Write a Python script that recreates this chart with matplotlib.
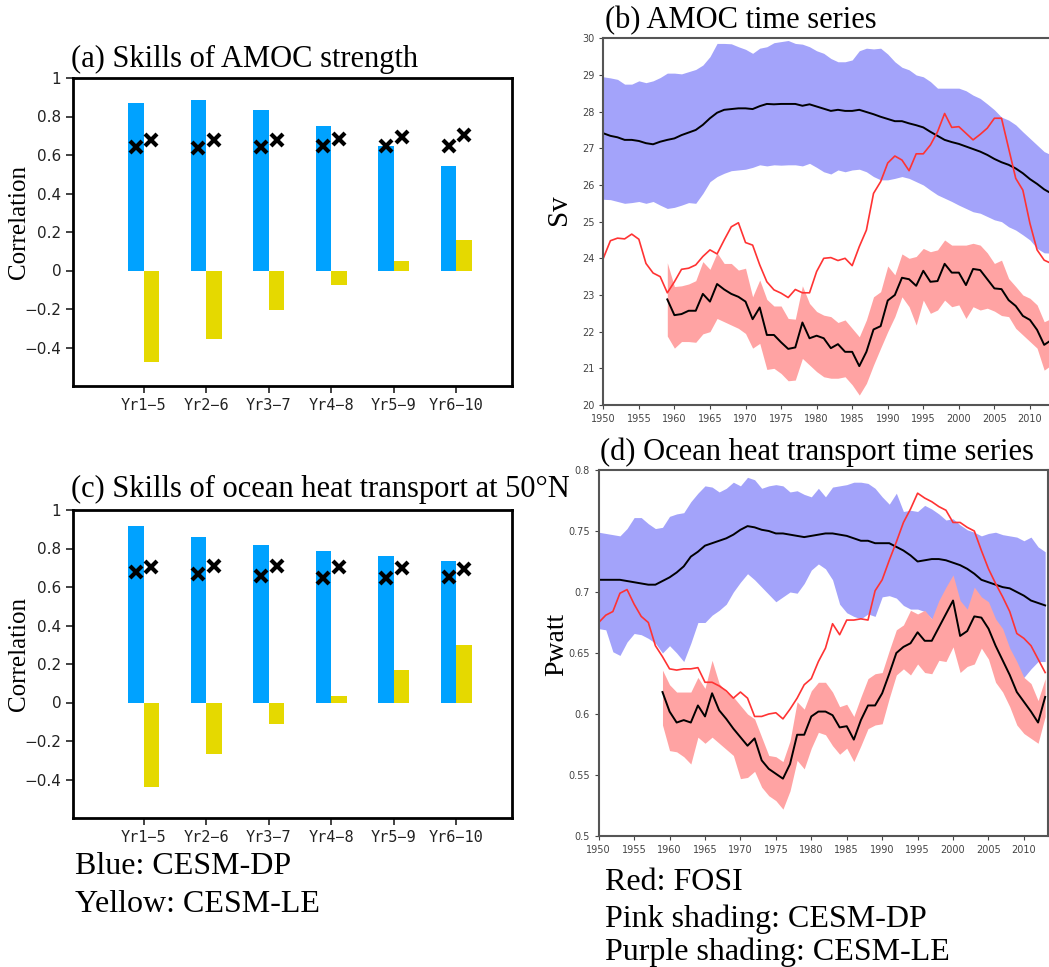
import matplotlib.pyplot as plt
import numpy as np

plt.rcParams['font.family'] = 'DejaVu Sans'

# ---- bar panels: correlation skill ----
leads = ['Yr1\u22125', 'Yr2\u22126', 'Yr3\u22127', 'Yr4\u22128', 'Yr5\u22129', 'Yr6\u221210']

amoc_dp = [0.870, 0.886, 0.832, 0.749, 0.648, 0.541]
amoc_le = [-0.477, -0.357, -0.204, -0.075, 0.047, 0.159]
amoc_dp_x = [0.640, 0.636, 0.641, 0.645, 0.648, 0.648]
amoc_le_x = [0.676, 0.676, 0.678, 0.683, 0.693, 0.705]

oht_dp = [0.916, 0.861, 0.819, 0.786, 0.761, 0.735]
oht_le = [-0.441, -0.270, -0.110, 0.035, 0.167, 0.300]
oht_dp_x = [0.679, 0.665, 0.655, 0.646, 0.646, 0.652]
oht_le_x = [0.702, 0.707, 0.709, 0.706, 0.699, 0.692]

# ---- time series ----
years = np.arange(1950, 2014)
years_dp = np.arange(1959, 2014)

amoc_le_hi = [28.95, 28.92, 28.88, 28.75, 28.75, 28.84, 28.79, 28.84, 28.93, 29.05,
              29.05, 29.03, 29.09, 29.15, 29.27, 29.50, 29.86, 29.86, 29.85, 29.77,
              29.70, 29.59, 29.73, 29.77, 29.88, 29.91, 29.94, 29.86, 29.84, 29.77,
              29.66, 29.59, 29.45, 29.36, 29.36, 29.41, 29.66, 29.73, 29.71, 29.73,
              29.57, 29.36, 29.21, 29.14, 29.00, 28.95, 28.82, 28.64, 28.64, 28.64,
              28.64, 28.57, 28.45, 28.36, 28.21, 28.05, 27.85, 27.77, 27.64, 27.45,
              27.27, 27.09, 26.91, 26.82]
amoc_le_lo = [25.61, 25.60, 25.55, 25.50, 25.52, 25.55, 25.50, 25.55, 25.45, 25.36,
              25.39, 25.45, 25.52, 25.50, 25.77, 26.09, 26.23, 26.32, 26.39, 26.41,
              26.43, 26.48, 26.55, 26.52, 26.55, 26.54, 26.55, 26.55, 26.52, 26.59,
              26.48, 26.36, 26.30, 26.41, 26.36, 26.41, 26.43, 26.36, 26.23, 26.14,
              26.14, 26.18, 26.23, 26.18, 26.09, 26.00, 25.86, 25.73, 25.64, 25.55,
              25.45, 25.36, 25.27, 25.23, 25.14, 25.05, 25.00, 24.86, 24.77, 24.64,
              24.50, 24.27, 24.15, 24.14]
amoc_le_mean = [27.41, 27.34, 27.30, 27.23, 27.23, 27.20, 27.14, 27.11, 27.18, 27.23,
                27.27, 27.36, 27.43, 27.50, 27.64, 27.82, 27.97, 28.05, 28.07, 28.09,
                28.09, 28.07, 28.15, 28.21, 28.20, 28.21, 28.21, 28.21, 28.16, 28.20,
                28.14, 28.08, 28.02, 28.05, 28.02, 28.02, 28.05, 27.99, 27.93, 27.86,
                27.80, 27.74, 27.74, 27.68, 27.63, 27.57, 27.45, 27.34, 27.23, 27.17,
                27.12, 27.05, 26.98, 26.91, 26.82, 26.71, 26.62, 26.55, 26.45, 26.32,
                26.16, 26.03, 25.88, 25.77]
amoc_fosi = [24.00, 24.48, 24.55, 24.53, 24.66, 24.52, 23.86, 23.60, 23.50, 23.06,
             23.36, 23.70, 23.73, 23.82, 24.05, 24.23, 24.12, 24.50, 24.86, 24.97,
             24.43, 24.36, 23.82, 23.36, 23.14, 23.05, 22.93, 23.15, 23.06, 23.06,
             23.64, 24.00, 24.02, 23.94, 24.00, 23.80, 24.32, 24.77, 25.77, 26.09,
             26.60, 26.79, 26.68, 26.39, 26.85, 26.85, 27.09, 27.45, 27.95, 27.57,
             27.59, 27.41, 27.23, 27.38, 27.55, 27.82, 27.82, 27.00, 26.18, 25.86,
             24.95, 24.23, 23.95, 23.86]
amoc_dp_mean = [22.88, 22.45, 22.48, 22.57, 22.57, 23.03, 22.82, 23.30, 23.15, 23.03,
                22.95, 22.82, 22.34, 22.66, 21.91, 21.91, 21.71, 21.53, 21.57, 22.25,
                21.82, 21.89, 21.82, 21.55, 21.66, 21.45, 21.45, 21.06, 21.45, 22.06,
                22.15, 22.85, 23.00, 23.47, 23.43, 23.25, 23.66, 23.36, 23.38, 23.85,
                23.61, 23.61, 23.27, 23.71, 23.68, 23.43, 23.18, 23.16, 22.86, 22.70,
                22.43, 22.32, 22.05, 21.64, 21.77]
amoc_dp_hi = [23.88, 23.23, 23.25, 23.30, 23.39, 23.91, 23.70, 24.15, 23.86, 23.86,
              23.68, 23.73, 22.95, 23.41, 22.88, 22.70, 22.70, 22.36, 22.34, 23.25,
              22.77, 22.55, 22.45, 22.41, 22.25, 22.32, 22.09, 21.86, 22.32, 22.95,
              23.09, 23.79, 23.55, 24.12, 24.00, 24.05, 24.27, 24.18, 24.23, 24.50,
              24.36, 24.36, 24.36, 24.41, 24.36, 24.15, 23.86, 23.95, 23.45, 23.23,
              23.00, 22.91, 22.73, 22.27, 22.36]
amoc_dp_lo = [21.88, 21.55, 21.73, 21.73, 21.71, 21.94, 22.00, 22.36, 22.27, 22.18,
              22.09, 21.95, 21.55, 21.68, 20.97, 21.00, 20.86, 20.66, 20.68, 21.27,
              21.09, 20.91, 20.77, 20.73, 20.73, 20.77, 20.55, 20.27, 20.59, 21.09,
              21.55, 22.00, 22.41, 22.95, 22.68, 22.18, 22.86, 22.50, 22.59, 22.86,
              22.68, 22.73, 22.36, 22.68, 22.59, 22.64, 22.56, 22.44, 22.41, 22.09,
              21.91, 21.73, 21.55, 20.95, 21.09]

oht_le_hi = [0.749, 0.748, 0.747, 0.746, 0.752, 0.761, 0.761, 0.756, 0.752, 0.753,
             0.762, 0.764, 0.765, 0.774, 0.781, 0.787, 0.786, 0.782, 0.785, 0.790,
             0.787, 0.794, 0.792, 0.785, 0.787, 0.788, 0.787, 0.782, 0.783, 0.780,
             0.778, 0.785, 0.778, 0.786, 0.787, 0.788, 0.790, 0.790, 0.789, 0.785,
             0.778, 0.772, 0.781, 0.766, 0.767, 0.766, 0.771, 0.768, 0.764, 0.759,
             0.760, 0.755, 0.751, 0.749, 0.746, 0.748, 0.749, 0.747, 0.746, 0.745,
             0.742, 0.745, 0.737, 0.733]
oht_le_lo = [0.670, 0.669, 0.651, 0.648, 0.659, 0.666, 0.665, 0.662, 0.658, 0.650,
             0.656, 0.650, 0.643, 0.658, 0.675, 0.675, 0.681, 0.685, 0.690, 0.700,
             0.708, 0.715, 0.710, 0.704, 0.698, 0.692, 0.696, 0.700, 0.699, 0.707,
             0.718, 0.723, 0.719, 0.710, 0.690, 0.683, 0.680, 0.678, 0.682, 0.680,
             0.696, 0.697, 0.695, 0.689, 0.686, 0.686, 0.684, 0.678, 0.678, 0.677,
             0.674, 0.673, 0.673, 0.670, 0.667, 0.659, 0.654, 0.647, 0.643, 0.636,
             0.630, 0.637, 0.643, 0.643]
oht_le_mean = [0.710, 0.710, 0.710, 0.710, 0.709, 0.708, 0.707, 0.706, 0.706, 0.709,
               0.712, 0.716, 0.721, 0.729, 0.733, 0.738, 0.740, 0.742, 0.744, 0.747,
               0.751, 0.754, 0.753, 0.751, 0.750, 0.748, 0.748, 0.747, 0.746, 0.745,
               0.746, 0.747, 0.748, 0.748, 0.747, 0.746, 0.744, 0.742, 0.742, 0.740,
               0.740, 0.740, 0.737, 0.734, 0.730, 0.725, 0.726, 0.727, 0.727, 0.726,
               0.724, 0.722, 0.719, 0.715, 0.710, 0.708, 0.706, 0.704, 0.703, 0.700,
               0.697, 0.693, 0.691, 0.689]
oht_fosi = [0.675, 0.681, 0.684, 0.699, 0.702, 0.690, 0.680, 0.675, 0.656, 0.647,
            0.637, 0.636, 0.637, 0.637, 0.638, 0.626, 0.626, 0.623, 0.619, 0.613,
            0.618, 0.613, 0.598, 0.598, 0.600, 0.601, 0.596, 0.604, 0.613, 0.624,
            0.629, 0.643, 0.654, 0.674, 0.665, 0.677, 0.677, 0.678, 0.677, 0.701,
            0.710, 0.726, 0.741, 0.757, 0.768, 0.781, 0.777, 0.774, 0.770, 0.767,
            0.757, 0.757, 0.753, 0.750, 0.734, 0.719, 0.707, 0.696, 0.684, 0.666,
            0.662, 0.656, 0.645, 0.634]
oht_dp_mean = [0.618, 0.602, 0.593, 0.595, 0.593, 0.607, 0.598, 0.617, 0.603, 0.596,
               0.588, 0.581, 0.574, 0.580, 0.562, 0.555, 0.551, 0.547, 0.559, 0.583,
               0.583, 0.598, 0.602, 0.602, 0.599, 0.589, 0.590, 0.579, 0.595, 0.607,
               0.607, 0.617, 0.633, 0.650, 0.655, 0.658, 0.667, 0.660, 0.660, 0.671,
               0.682, 0.693, 0.664, 0.668, 0.680, 0.679, 0.670, 0.656, 0.644, 0.632,
               0.618, 0.610, 0.602, 0.593, 0.614]
oht_dp_hi = [0.636, 0.624, 0.618, 0.618, 0.618, 0.630, 0.621, 0.644, 0.625, 0.618,
             0.614, 0.607, 0.600, 0.596, 0.581, 0.566, 0.565, 0.561, 0.578, 0.610,
             0.604, 0.619, 0.626, 0.626, 0.618, 0.606, 0.608, 0.598, 0.614, 0.629,
             0.633, 0.634, 0.652, 0.669, 0.673, 0.685, 0.682, 0.685, 0.678, 0.693,
             0.704, 0.714, 0.693, 0.686, 0.704, 0.696, 0.692, 0.678, 0.670, 0.654,
             0.643, 0.630, 0.625, 0.611, 0.629]
oht_dp_lo = [0.591, 0.570, 0.569, 0.565, 0.559, 0.581, 0.576, 0.581, 0.576, 0.571,
             0.566, 0.547, 0.548, 0.553, 0.540, 0.533, 0.529, 0.522, 0.537, 0.562,
             0.555, 0.572, 0.585, 0.583, 0.574, 0.567, 0.572, 0.561, 0.574, 0.588,
             0.591, 0.592, 0.613, 0.632, 0.637, 0.632, 0.641, 0.634, 0.633, 0.644,
             0.643, 0.655, 0.634, 0.639, 0.641, 0.654, 0.645, 0.626, 0.618, 0.606,
             0.591, 0.584, 0.580, 0.576, 0.598]

blue = '#00A2FF'
yellow = '#E5D900'
purple = '#A3A3FA'
pink = '#FFA3A3'
red = '#FF3333'
serif = 'Liberation Serif'

W, H = 1049, 967
fig = plt.figure(figsize=(W / 100, H / 100), dpi=100)


def px_axes(l, t, r, b):
    return fig.add_axes([l / W, 1 - b / H, (r - l) / W, (b - t) / H])


def ftext(x, y, s, **kw):
    fig.text(x / W, 1 - y / H, s, **kw)


def bar_panel(ax, dp, le, dp_x, le_x):
    x = np.arange(1, len(leads) + 1)
    ax.bar(x - 0.125, dp, width=0.25, color=blue)
    ax.bar(x + 0.125, le, width=0.25, color=yellow)
    ax.plot(x - 0.125, dp_x, 'x', color='black', ms=8, mew=3)
    ax.plot(x + 0.125, le_x, 'x', color='black', ms=8, mew=3)
    ax.set_xlim(-0.13, 6.89)
    ax.set_ylim(-0.6, 1)
    ax.set_xticks(x)
    ax.set_xticklabels(leads, family='DejaVu Sans Mono', fontsize=11)
    ax.set_yticks([-0.4, -0.2, 0, 0.2, 0.4, 0.6, 0.8, 1])
    ax.set_yticklabels(['\u22120.4', '\u22120.2', '0', '0.2', '0.4', '0.6', '0.8', '1'], fontsize=11)
    ax.tick_params(direction='out', length=5, width=1.2, colors='#222')
    for s in ax.spines.values():
        s.set_linewidth(2)


def ts_panel(ax, le_lo, le_hi, le_mean, fosi, dp_lo, dp_hi, dp_mean):
    ax.fill_between(years, le_lo, le_hi, color=purple, lw=0)
    ax.fill_between(years_dp, dp_lo, dp_hi, color=pink, lw=0)
    ax.plot(years, le_mean, color='black', lw=1.4)
    ax.plot(years, fosi, color=red, lw=1.2)
    ax.plot(years_dp, dp_mean, color='black', lw=1.4)
    ax.set_xticks(np.arange(1950, 2011, 5))
    ax.tick_params(direction='out', length=3, labelsize=7, colors='#444')
    for s in ax.spines.values():
        s.set_linewidth(1.5)
        s.set_color('#555')


# (a)
ax_a = px_axes(73, 78, 512, 386)
bar_panel(ax_a, amoc_dp, amoc_le, amoc_dp_x, amoc_le_x)
ftext(71, 67, '(a) Skills of AMOC strength', family=serif, fontsize=22, va='baseline')
ftext(19, 222, 'Correlation', family=serif, fontsize=18, rotation=90, ha='center', va='center')

# (c)
ax_c = px_axes(73, 510, 512, 818)
bar_panel(ax_c, oht_dp, oht_le, oht_dp_x, oht_le_x)
ftext(71, 497, '(c) Skills of ocean heat transport at 50\u00b0N', family=serif, fontsize=22, va='baseline')
ftext(19, 654, 'Correlation', family=serif, fontsize=18, rotation=90, ha='center', va='center')

# (b)
ax_b = px_axes(603.3, 38.3, 1058.4, 405)
ts_panel(ax_b, amoc_le_lo, amoc_le_hi, amoc_le_mean, amoc_fosi,
         amoc_dp_lo, amoc_dp_hi, amoc_dp_mean)
ax_b.set_xlim(1950, 2014)
ax_b.set_ylim(20, 30)
ax_b.set_yticks(np.arange(20, 31, 1))
ftext(605, 28, '(b) AMOC time series', family=serif, fontsize=22, va='baseline')
ftext(559, 210, 'Sv', family=serif, fontsize=21, rotation=90, ha='center', va='center')

# (d)
ax_d = px_axes(598.7, 470, 1048, 836)
ts_panel(ax_d, oht_le_lo, oht_le_hi, oht_le_mean, oht_fosi,
         oht_dp_lo, oht_dp_hi, oht_dp_mean)
ax_d.set_xlim(1950, 2013.4)
ax_d.set_ylim(0.5, 0.8)
ax_d.set_yticks([0.5, 0.55, 0.6, 0.65, 0.7, 0.75, 0.8])
ax_d.set_yticklabels(['0.5', '0.55', '0.6', '0.65', '0.7', '0.75', '0.8'])
ftext(600, 460, '(d) Ocean heat transport time series', family=serif, fontsize=22, va='baseline')
ftext(557, 644, 'Pwatt', family=serif, fontsize=20, rotation=90, ha='center', va='center')

# notes under the panels
ftext(75, 866, 'Blue: CESM-DP', family=serif, fontsize=23, va='center')
ftext(75, 904, 'Yellow: CESM-LE', family=serif, fontsize=23, va='center')
ftext(605, 882, 'Red: FOSI', family=serif, fontsize=23, va='center')
ftext(605, 919, 'Pink shading: CESM-DP', family=serif, fontsize=23, va='center')
ftext(605, 952, 'Purple shading: CESM-LE', family=serif, fontsize=23, va='center')

fig.savefig('out.png', dpi=100)
